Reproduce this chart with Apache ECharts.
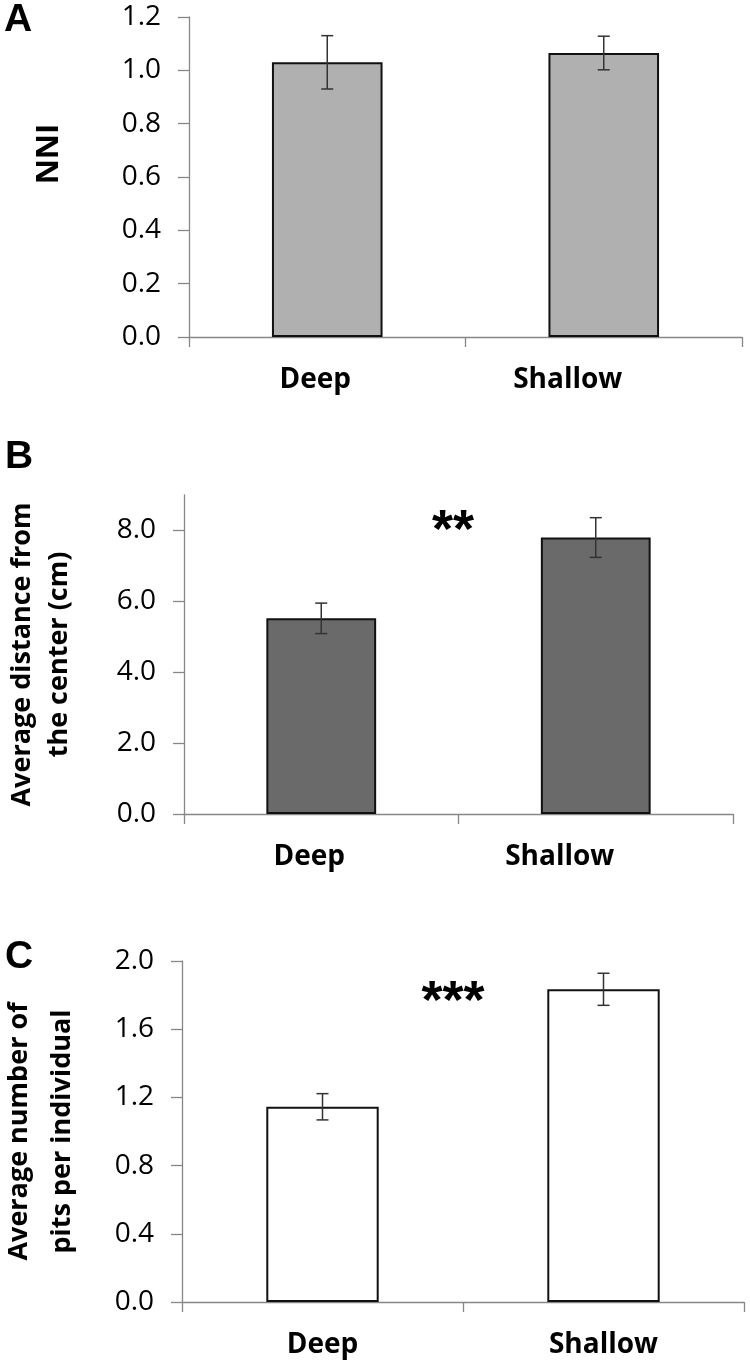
<!DOCTYPE html>
<html>
<head>
<meta charset="utf-8">
<script src="https://cdn.jsdelivr.net/npm/echarts@6/dist/echarts.min.js"></script>
<style>
  html, body { margin: 0; padding: 0; background: #fff; }
  #myChart { width: 750px; height: 1366px; }
</style>
</head>
<body>
<div id="myChart"></div>
<script>
// categories
const sites = ['Deep', 'Shallow'];

// A: nearest neighbour index
const nniMean = [1.03, 1.065];
const nniErr = [0.1, 0.063];

// B: average distance from the center (cm)
const distMean = [5.52, 7.8];
const distErr = [0.43, 0.56];

// C: average number of pits per individual
const pitsMean = [1.145, 1.834];
const pitsErr = [0.077, 0.094];

const distTicks = [0, 2, 4, 6, 8];
const sigMarks = ['', '**', '***'];

const axisGrey = '#878787';
const font = '"Open Sans", "Liberation Sans", sans-serif';
const arial = '"Liberation Sans", Arial, sans-serif';

function xAxisFor(gi, shift) {
  return {
    type: 'category',
    gridIndex: gi,
    data: sites,
    axisLine: { lineStyle: { color: axisGrey, width: 1.3 } },
    axisTick: { show: true, length: 10, lineStyle: { color: axisGrey, width: 1.3 } },
    axisLabel: {
      margin: 29,
      color: '#000',
      fontFamily: font,
      fontWeight: 'bold',
      fontSize: 28,
      formatter: function (v, i) {
        return shift ? '{s' + i + '|' + v + '}' : v;
      },
      rich: shift ? {
        s0: { fontFamily: font, fontWeight: 'bold', fontSize: 28, color: '#000', padding: [0, 24, 0, 0] },
        s1: { fontFamily: font, fontWeight: 'bold', fontSize: 28, color: '#000', padding: [0, 72, 0, 0] }
      } : {}
    }
  };
}

const tickLabel = {
  margin: 28,
  color: '#000',
  fontFamily: font,
  fontSize: 28,
  formatter: function (v) { return v.toFixed(1); }
};

function yAxisFor(gi, opt) {
  return Object.assign({
    type: 'value',
    gridIndex: gi,
    min: 0,
    nameLocation: 'middle',
    nameRotate: 90,
    splitLine: { show: false },
    axisLine: { show: true, lineStyle: { color: axisGrey, width: 1.3 } },
    axisTick: { show: true, length: 11, lineStyle: { color: axisGrey, width: 1.3 } },
    axisLabel: tickLabel
  }, opt);
}

function barSeries(gi, values, fill) {
  return {
    type: 'bar',
    xAxisIndex: gi,
    yAxisIndex: gi,
    data: values,
    barWidth: '40%',
    animation: false,
    itemStyle: { color: fill, borderColor: '#111', borderWidth: 2 }
  };
}

function errSeries(gi, values, errs) {
  return {
    type: 'custom',
    xAxisIndex: gi,
    yAxisIndex: gi,
    animation: false,
    z: 5,
    data: values.map(function (v, i) { return [i, v - errs[i], v + errs[i]]; }),
    renderItem: function (params, api) {
      const lo = api.coord([api.value(0), api.value(1)]);
      const hi = api.coord([api.value(0), api.value(2)]);
      const cap = 6;
      const st = { stroke: '#333', lineWidth: 1.5 };
      return {
        type: 'group',
        children: [
          { type: 'line', shape: { x1: hi[0], y1: hi[1], x2: lo[0], y2: lo[1] }, style: st },
          { type: 'line', shape: { x1: hi[0] - cap, y1: hi[1], x2: hi[0] + cap, y2: hi[1] }, style: st },
          { type: 'line', shape: { x1: lo[0] - cap, y1: lo[1], x2: lo[0] + cap, y2: lo[1] }, style: st }
        ]
      };
    }
  };
}

let Chart = echarts.init(document.getElementById('myChart'));

Chart.setOption({
  backgroundColor: '#fff',
  grid: [
    { left: 189, right: 8, top: 17, height: 320, outerBoundsMode: 'none' },
    { left: 184, right: 17, top: 495, height: 319, outerBoundsMode: 'none' },
    { left: 182, right: 6, top: 961, height: 341, outerBoundsMode: 'none' }
  ],
  xAxis: [xAxisFor(0, true), xAxisFor(1, true), xAxisFor(2, false)],
  yAxis: [
    yAxisFor(0, {
      max: 1.2, interval: 0.2, name: 'NNI', nameGap: 124,
      nameTextStyle: { color: '#000', fontFamily: font, fontWeight: 'bold', fontSize: 31, padding: [0, 0, 0, 46] }
    }),
    yAxisFor(1, {
      max: 9, interval: 1,
      name: 'Average distance from\nthe center (cm)', nameGap: 106,
      axisTick: { show: true, length: 11, customValues: distTicks, lineStyle: { color: axisGrey, width: 1.3 } },
      axisLabel: Object.assign({}, tickLabel, { customValues: distTicks }),
      nameTextStyle: { color: '#000', fontFamily: font, fontWeight: 'bold', fontSize: 27, lineHeight: 37 }
    }),
    yAxisFor(2, {
      max: 2, interval: 0.4,
      name: 'Average number of\npits per individual', nameGap: 98,
      nameTextStyle: { color: '#000', fontFamily: font, fontWeight: 'bold', fontSize: 27, lineHeight: 43 }
    })
  ],
  graphic: [
    { type: 'text', left: 4, top: 1, style: { text: 'A', fontFamily: arial, fontWeight: 'bold', fontSize: 39, fill: '#000' } },
    { type: 'text', left: 5, top: 438, style: { text: 'B', fontFamily: arial, fontWeight: 'bold', fontSize: 39, fill: '#000' } },
    { type: 'text', left: 5, top: 938, style: { text: 'C', fontFamily: arial, fontWeight: 'bold', fontSize: 39, fill: '#000' } },
    { type: 'text', x: 453, y: 532, style: { text: sigMarks[1], align: 'center', verticalAlign: 'middle', fontFamily: arial, fontWeight: 'bold', fontSize: 54, fill: '#000' } },
    { type: 'text', x: 453, y: 1003, style: { text: sigMarks[2], align: 'center', verticalAlign: 'middle', fontFamily: arial, fontWeight: 'bold', fontSize: 54, fill: '#000' } }
  ],
  series: [
    barSeries(0, nniMean, '#b0b0b0'),
    errSeries(0, nniMean, nniErr),
    barSeries(1, distMean, '#6a6a6a'),
    errSeries(1, distMean, distErr),
    barSeries(2, pitsMean, '#ffffff'),
    errSeries(2, pitsMean, pitsErr)
  ]
}, true);
</script>
</body>
</html>
